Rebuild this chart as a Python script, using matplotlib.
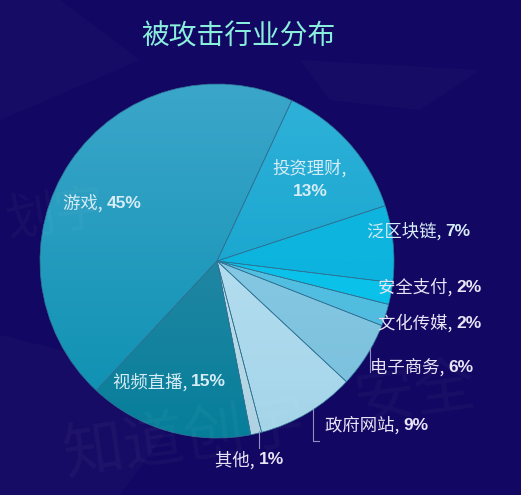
import numpy as np
import matplotlib
matplotlib.use("Agg")
import matplotlib.pyplot as plt
from matplotlib.colors import to_rgb

plt.rcParams['font.family'] = ['Noto Sans CJK SC', 'DejaVu Sans']

# ---------------- data ----------------
title = "被攻击行业分布"
names = ["投资理财", "泛区块链", "安全支付", "文化传媒", "电子商务",
         "政府网站", "其他", "视频直播", "游戏"]
values = [13, 7, 2, 2, 6, 9, 1, 15, 45]

# gradient colours (top -> bottom) per slice
top_colors = ["#30b2da", "#14b6de", "#12c4ec", "#5cc6e6", "#92d2ea",
              "#c2e6f5", "#d2ebf5", "#3a8fab", "#3ba6ca"]
bottom_colors = ["#079dc6", "#04b2de", "#05bfe8", "#4ab8dc", "#78bedb",
                 "#a4d4e9", "#aed2e2", "#067e9a", "#0a8fb0"]

# label anchors in pixel coords (x, y from top), and whether inside
label_pos = [(310, 179), (367, 231), (378, 287), (378, 323), (370, 367),
             (325, 425), (215, 460), (113, 382), (63, 203)]
inside = [True, True, False, False, False, False, False, True, True]

BG = "#120762"
W, H = 521, 495
cx, cy, r = 217, 261, 177

fig = plt.figure(figsize=(W / 100, H / 100), dpi=100, facecolor=BG)
ax = fig.add_axes([0, 0, 1, 1])
ax.set_facecolor(BG)

# faint background decorations / watermark
ax.fill([0, 60, 140, 0], [H - 0, H - 0, H - 60, H - 120], color="white", alpha=0.02, lw=0)
ax.fill([0, 120, 200, 0], [0, 0, 110, 160], color="white", alpha=0.025, lw=0)
ax.fill([300, 480, 420, 330], [H - 60, H - 70, H - 110, H - 100], color="white", alpha=0.02, lw=0)
ax.text(60, H - 440, "知道创宇", fontsize=44, color="white", alpha=0.035,
        rotation=8, va="center", ha="left")
ax.text(350, H - 395, "安全", fontsize=44, color="white", alpha=0.035,
        rotation=8, va="center", ha="left")
ax.text(2, H - 215, "划宇", fontsize=36, color="white", alpha=0.035,
        rotation=8, va="center", ha="left")

# ---------------- pie ----------------
wedges, _ = ax.pie(values, center=(cx, H - cy), radius=r, startangle=65,
                   counterclock=False,
                   colors=bottom_colors,
                   wedgeprops=dict(edgecolor="#2f7596", linewidth=0.5))

for w, c1, c2 in zip(wedges, top_colors, bottom_colors):
    t = np.linspace(0, 1, 256)[:, None, None]
    grad = (1 - t) * np.array(to_rgb(c1)) + t * np.array(to_rgb(c2))
    im = ax.imshow(grad, extent=(cx - r, cx + r, H - cy - r, H - cy + r),
                   origin="upper", aspect="auto", zorder=w.get_zorder() + 0.1)
    im.set_clip_path(w)
    # redraw edge on top
    w.set_zorder(w.get_zorder() + 0.2)
    w.set_facecolor("none")

ax.set_xlim(0, W)
ax.set_ylim(0, H)
ax.set_aspect("equal")
ax.axis("off")

# ---------------- labels ----------------
fs = 12.5
for name, v, (lx, ly), ins in zip(names, values, label_pos, inside):
    col = "#d6ecf6" if ins else "#e8e4f6"
    if name == "投资理财":
        ax.text(lx, H - ly + 11, name + ",", fontsize=fs, color=col,
                ha="center", va="center", zorder=10)
        ax.text(lx, H - ly - 12, f"{v}%", fontsize=fs, color=col,
                ha="center", va="center", weight="bold",
                family="Liberation Sans", zorder=10)
        continue
    t1 = ax.text(lx, H - ly, name + ", ", fontsize=fs, color=col,
                 ha="left", va="center", zorder=10)
    ax.annotate(f"{v}%", xy=(1, 0.5), xycoords=t1, fontsize=fs, color=col,
                ha="left", va="center", weight="bold",
                family="Liberation Sans", zorder=10)

# leader lines
lc = "#9290c0"
ax.plot([370, 370], [H - 348, H - 372], color=lc, lw=0.8)
ax.plot([313, 313, 319], [H - 409, H - 441, H - 441], color=lc, lw=0.8)
ax.plot([259, 259], [H - 431, H - 448], color=lc, lw=0.8)
ax.plot([377, 380], [H - 318, H - 318], color=lc, lw=0.8)

# ---------------- title ----------------
ax.text(238, H - 37, title, fontsize=20, color="#8aeedc",
        ha="center", va="center")

fig.savefig("out.png", dpi=100, facecolor=BG)
